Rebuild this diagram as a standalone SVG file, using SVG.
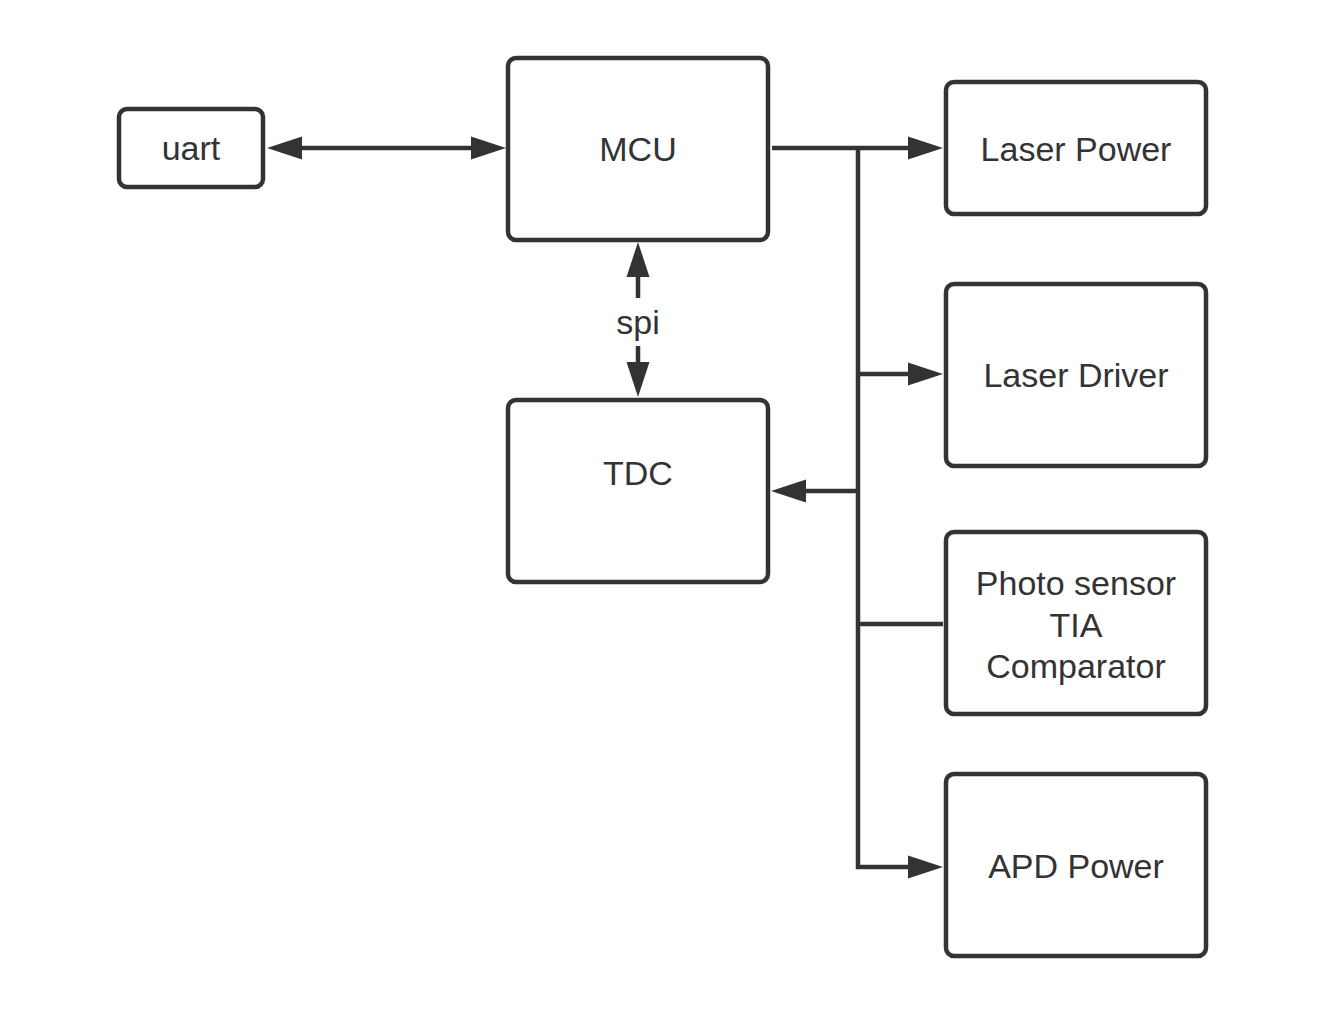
<svg xmlns="http://www.w3.org/2000/svg" width="1326" height="1012" viewBox="0 0 1326 1012">
<defs>
<style>
.box{fill:#fff;stroke:#333;stroke-width:4.5}
.lbl{font-family:"Liberation Sans",Arial,sans-serif;font-size:34px;fill:#333;text-anchor:middle}
.conn{fill:none;stroke:#333;stroke-width:4.5}
</style>
<marker id="ah" markerUnits="userSpaceOnUse" markerWidth="36" markerHeight="24" viewBox="0 0 36 24" refX="0" refY="12" orient="auto-start-reverse">
<path d="M0,0.5 L35,12 L0,23.5 z" fill="#333"/>
</marker>
</defs>
<rect width="1326" height="1012" fill="#fff"/>
<g id="connectors">
<path class="conn" d="M302,148 H471" marker-start="url(#ah)" marker-end="url(#ah)"/>
<path class="conn" d="M772,148 H908" marker-end="url(#ah)"/>
<path class="conn" d="M858,148 V867 H908" marker-end="url(#ah)"/>
<path class="conn" d="M858,374 H908" marker-end="url(#ah)"/>
<path class="conn" d="M858,624 H943"/>
<path class="conn" d="M858,491 H806" marker-end="url(#ah)"/>
<path class="conn" d="M638,298 V277" marker-end="url(#ah)"/>
<path class="conn" d="M638,346 V362" marker-end="url(#ah)"/>
<text class="lbl" x="638" y="334">spi</text>
</g>
<g id="uart">
<rect class="box" x="119" y="109" width="144" height="78" rx="8"/>
<text class="lbl" x="191" y="160">uart</text>
</g>
<g id="mcu">
<rect class="box" x="508" y="58" width="260" height="182" rx="8"/>
<text class="lbl" x="638" y="161">MCU</text>
</g>
<g id="tdc">
<rect class="box" x="508" y="400" width="260" height="182" rx="8"/>
<text class="lbl" x="638" y="485">TDC</text>
</g>
<g id="laser-power">
<rect class="box" x="946" y="82" width="260" height="132" rx="8"/>
<text class="lbl" x="1076" y="161">Laser Power</text>
</g>
<g id="laser-driver">
<rect class="box" x="946" y="284" width="260" height="182" rx="8"/>
<text class="lbl" x="1076" y="387">Laser Driver</text>
</g>
<g id="photo-sensor">
<rect class="box" x="946" y="532" width="260" height="182" rx="8"/>
<text class="lbl" x="1076" y="595">Photo sensor</text>
<text class="lbl" x="1076" y="637">TIA</text>
<text class="lbl" x="1076" y="678">Comparator</text>
</g>
<g id="apd-power">
<rect class="box" x="946" y="774" width="260" height="182" rx="8"/>
<text class="lbl" x="1076" y="878">APD Power</text>
</g>
</svg>
